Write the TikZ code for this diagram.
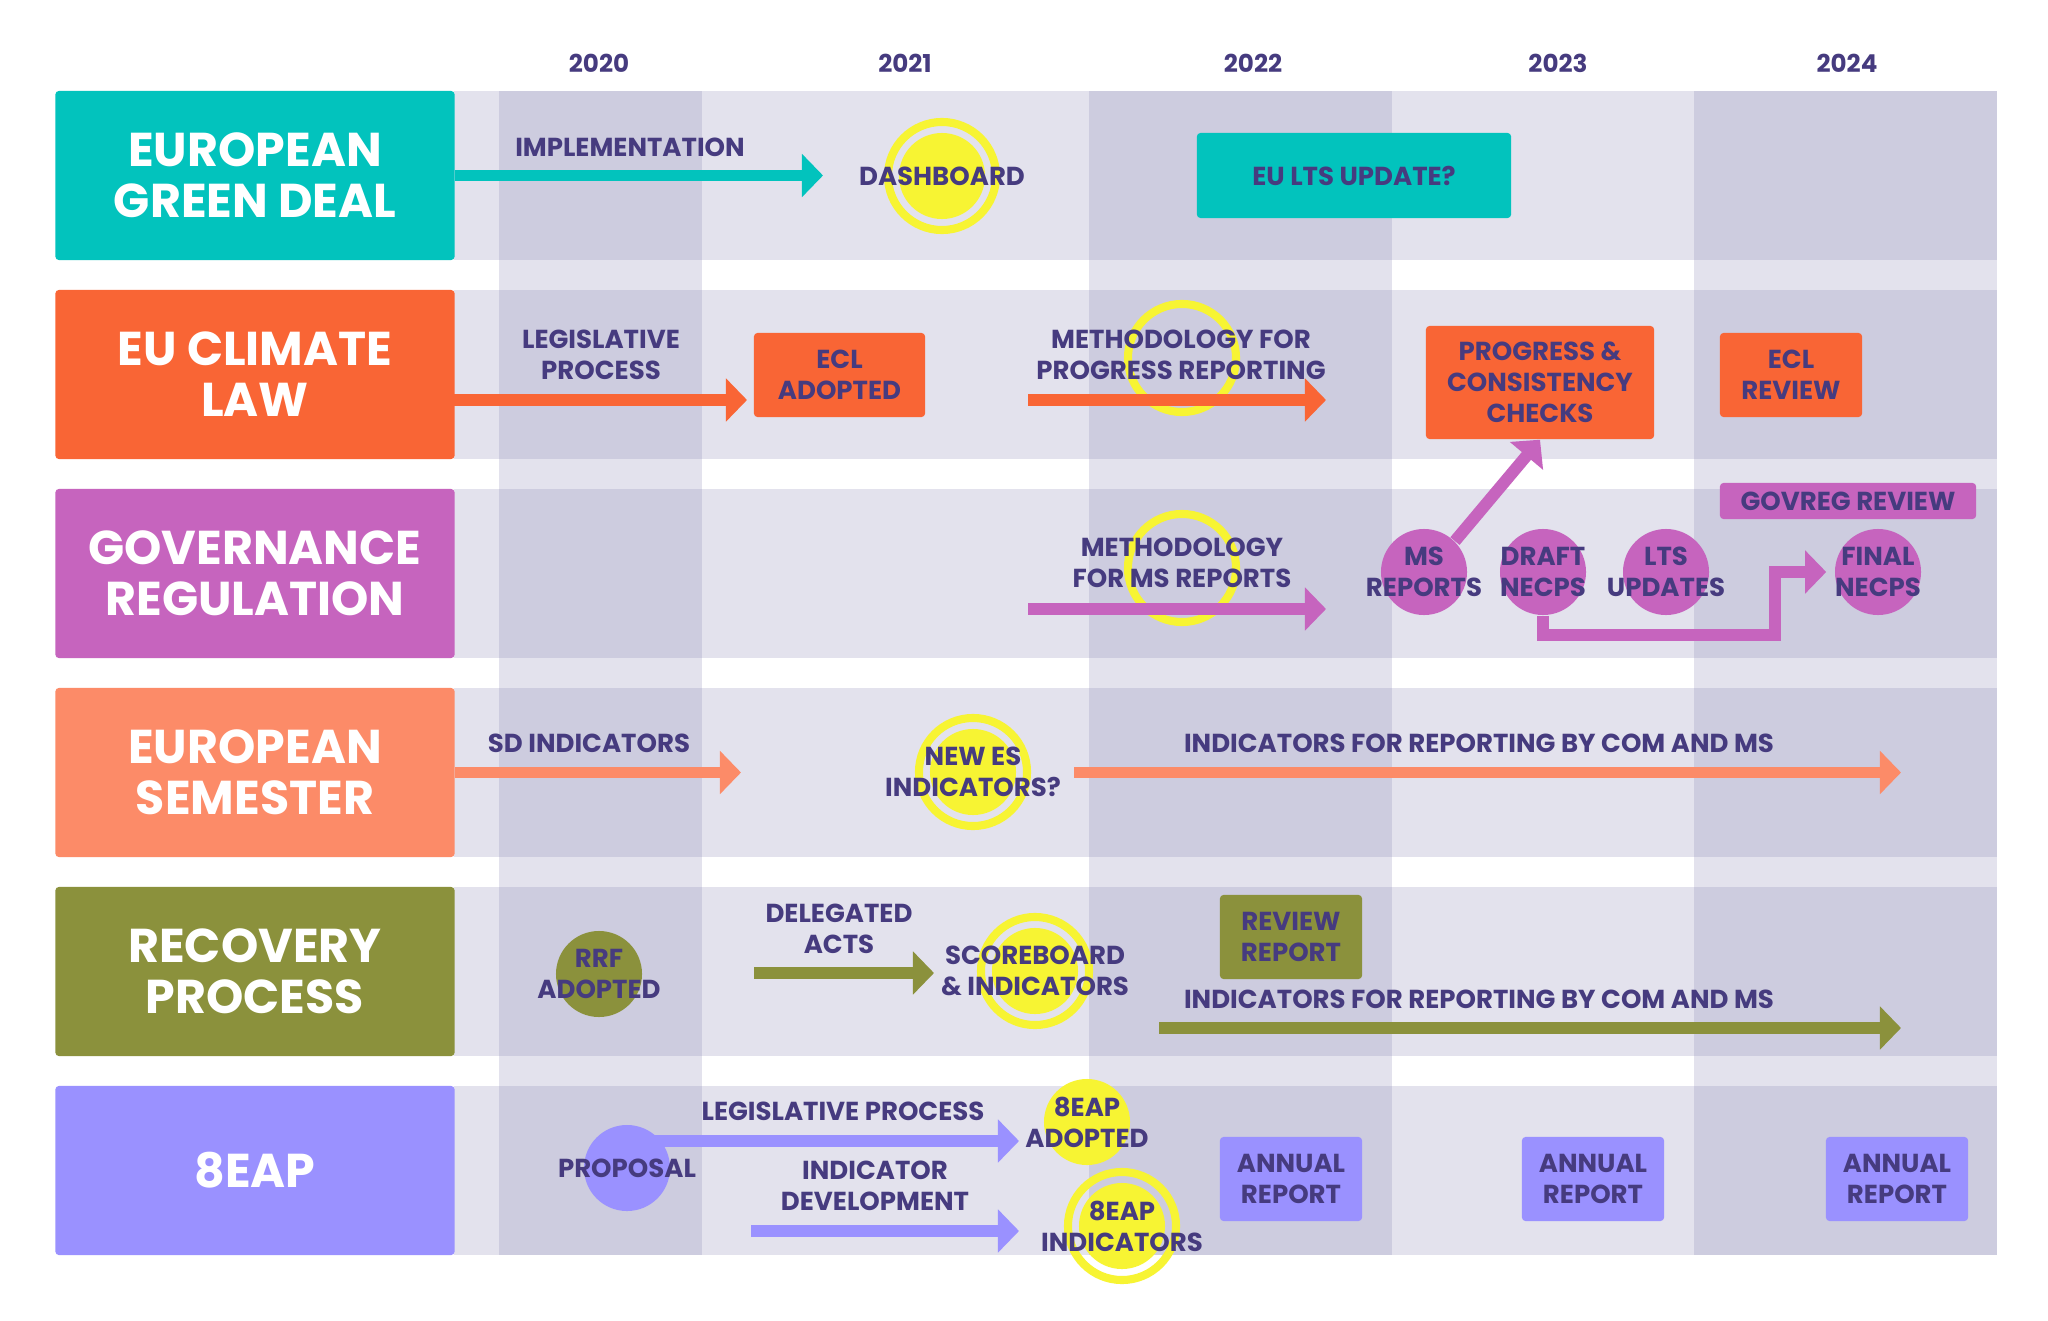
\documentclass[tikz,border=0pt]{standalone}
\usepackage{fontspec}
\setmainfont{Poppins}
\usepackage{xcolor}
\usetikzlibrary{arrows.meta}

\begin{document}
\begin{tikzpicture}[x=0.01cm,y=-0.01cm,font=\bfseries\fontsize{7.4}{8.8}\selectfont,
        flow/.style={line width=3.4pt,-{Triangle[length=6pt,width=12pt]}},
        lanebox/.style={rounded corners=1pt,minimum width=3.99cm,minimum height=1.69cm,
                text=white,align=center,font=\bfseries\fontsize{13.5}{14.5}\selectfont},
        tag/.style={rounded corners=1pt,text=ink,align=center,inner sep=0pt},
        txt/.style={text=ink,align=center,inner sep=0pt},
        dot/.style={circle,minimum size=0.86cm,inner sep=0pt},
        halo/.style={circle,draw=sun,line width=2.3pt,minimum size=1.08cm,inner sep=0pt}]

    \definecolor{egdcol}{HTML}{02C3BD}
    \definecolor{eclcol}{HTML}{F96535}
    \definecolor{govcol}{HTML}{C664BE}
    \definecolor{semcol}{HTML}{FC8B68}
    \definecolor{reccol}{HTML}{8B913C}
    \definecolor{eapcol}{HTML}{9A91FF}
    \definecolor{sun}{HTML}{F7F433}
    \definecolor{ink}{HTML}{463B7F}
    \definecolor{lanecol}{HTML}{E3E2ED}
    \definecolor{stripecol}{HTML}{CDCCDF}

    \newcommand{\milestone}[4]{%
        \node[dot,fill=#3] (#1) at (#2) {};
        \node[txt] (#1-t) at (#1) {#4};
    }

    \fill[white] (0,0) rectangle (2048,1321);
    \useasboundingbox (0,0) rectangle (2048,1321);

    % year columns and lanes
    \foreach \a/\b in {499/702,1089/1392,1694/1997}
    \fill[lanecol] (\a,91) rectangle (\b,1255);
    \foreach \t in {91,290,...,1086}{
            \fill[lanecol] (454,\t) rectangle (1997,\t+169);
            \foreach \a/\b in {499/702,1089/1392,1694/1997}
            \fill[stripecol] (\a,\t) rectangle (\b,\t+169);
        }
    \foreach \x/\y in {599/2020,905/2021,1253/2022,1558/2023,1847/2024}
    \node[txt,font=\bfseries\fontsize{7}{8}\selectfont] (y\y) at (\x,63) {\y};

    \node[lanebox,fill=egdcol] (egd) at (255,175.5) {EUROPEAN\\GREEN DEAL};
    \node[lanebox,fill=eclcol] (ecl) at (255,374.5) {EU CLIMATE\\LAW};
    \node[lanebox,fill=govcol] (gov) at (255,573.5) {GOVERNANCE\\REGULATION};
    \node[lanebox,fill=semcol] (sem) at (255,772.5) {EUROPEAN\\SEMESTER};
    \node[lanebox,fill=reccol] (rec) at (255,971.5) {RECOVERY\\PROCESS};
    \node[lanebox,fill=eapcol] (eap) at (255,1170.5) {8EAP};

    % rings
    \node[halo] (dash-h) at (942,176) {};
    \node[halo] (prog-h) at (1182,358) {};
    \node[halo] (msmeth-h) at (1182,568) {};
    \node[halo] (newes-h) at (973,772) {};
    \node[halo] (score-h) at (1035,971) {};
    \node[halo] (eapind-h) at (1122,1226) {};

    % boxes
    \node[tag,fill=egdcol,minimum width=3.14cm,minimum height=0.85cm] (lts) at (1354,175.5) {EU LTS UPDATE?};
    \node[tag,fill=eclcol,minimum width=1.71cm,minimum height=0.84cm] (ecladopt) at (839.5,375) {ECL\\ADOPTED};
    \node[tag,fill=eclcol,minimum width=2.28cm,minimum height=1.13cm] (prog) at (1540,382.5) {PROGRESS \&\\CONSISTENCY\\CHECKS};
    \node[tag,fill=eclcol,minimum width=1.42cm,minimum height=0.84cm] (eclrev) at (1791,375) {ECL\\REVIEW};
    \node[tag,fill=govcol,minimum width=2.56cm,minimum height=0.36cm] (govrev) at (1848,501) {GOVREG REVIEW};
    \node[tag,fill=reccol,minimum width=1.42cm,minimum height=0.84cm] (revrep) at (1291,937) {REVIEW\\REPORT};
    \foreach \x/\n in {1291/a,1593/b,1897/c}
    \node[tag,fill=eapcol,minimum width=1.42cm,minimum height=0.84cm] (annual-\n) at (\x,1179) {ANNUAL\\REPORT};

    % milestones
    \milestone{dash}{942,176}{sun}{DASHBOARD}
    \milestone{ms}{1424,572}{govcol}{MS\\REPORTS}
    \milestone{draft}{1543,572}{govcol}{DRAFT\\NECPS}
    \milestone{lts-up}{1666,572}{govcol}{LTS\\UPDATES}
    \milestone{final}{1878,572}{govcol}{FINAL\\NECPS}
    \milestone{newes}{973,772}{sun}{NEW ES\\INDICATORS?}
    \milestone{rrf}{599,974}{reccol}{RRF\\ADOPTED}
    \milestone{score}{1035,971}{sun}{SCOREBOARD\\\& INDICATORS}
    \milestone{prop}{627,1168}{eapcol}{PROPOSAL}
    \milestone{eapadopt}{1087,1122}{sun}{8EAP\\ADOPTED}
    \milestone{eapind}{1122,1226}{sun}{8EAP\\INDICATORS}

    % arrows
    \coordinate (impl-end) at (823,175.5);
    \coordinate (legis-a) at (454,400);
    \coordinate (legis-b) at (747,400);
    \coordinate (meth-a) at (1028,400);
    \coordinate (meth-b) at (1326,400);
    \coordinate (msm-a) at (1028,609);
    \coordinate (msm-b) at (1326,609);
    \coordinate (bend) at (1775,635);
    \coordinate (sd-end) at (741,772.5);
    \coordinate (es-a) at (1074,772.5);
    \coordinate (es-b) at (1901,772.5);
    \coordinate (del-a) at (754,973);
    \coordinate (del-b) at (934,973);
    \coordinate (rec-a) at (1159,1028);
    \coordinate (rec-b) at (1901,1028);
    \coordinate (leg8-a) at (653,1141);
    \coordinate (leg8-b) at (1019,1141);
    \coordinate (dev-a) at (751,1231);
    \coordinate (dev-b) at (1019,1231);

    \draw[flow,egdcol] (egd.east) -- (impl-end);
    \draw[flow,eclcol] (legis-a) -- (legis-b);
    \draw[flow,eclcol] (meth-a) -- (meth-b);
    \draw[flow,govcol] (msm-a) -- (msm-b);
    \draw[flow,govcol] (ms.45) -- (prog.south);
    \draw[flow,govcol,shorten >=2.3pt] (draft.south) |- (bend) |- (final.west);
    \draw[flow,semcol] (sem.east) -- (sd-end);
    \draw[flow,semcol] (es-a) -- (es-b);
    \draw[flow,reccol] (del-a) -- (del-b);
    \draw[flow,reccol] (rec-a) -- (rec-b);
    \draw[flow,eapcol] (leg8-a) -- (leg8-b);
    \draw[flow,eapcol] (dev-a) -- (dev-b);

    % labels
    \node[txt] (impl) at (630,147) {IMPLEMENTATION};
    \node[txt] (legis) at (601,355) {LEGISLATIVE\\PROCESS};
    \node[txt] (methprog) at (1181,355) {METHODOLOGY FOR\\PROGRESS REPORTING};
    \node[txt] (methms) at (1182,563) {METHODOLOGY\\FOR MS REPORTS};
    \node[txt] (sdind) at (589,743) {SD INDICATORS};
    \node[txt] (indsem) at (1479,743) {INDICATORS FOR REPORTING BY COM AND MS};
    \node[txt] (deleg) at (839,929) {DELEGATED\\ACTS};
    \node[txt] (indrec) at (1479,999) {INDICATORS FOR REPORTING BY COM AND MS};
    \node[txt] (legis8) at (843,1111) {LEGISLATIVE PROCESS};
    \node[txt] (inddev) at (875,1186) {INDICATOR\\DEVELOPMENT};

\end{tikzpicture}
\end{document}
